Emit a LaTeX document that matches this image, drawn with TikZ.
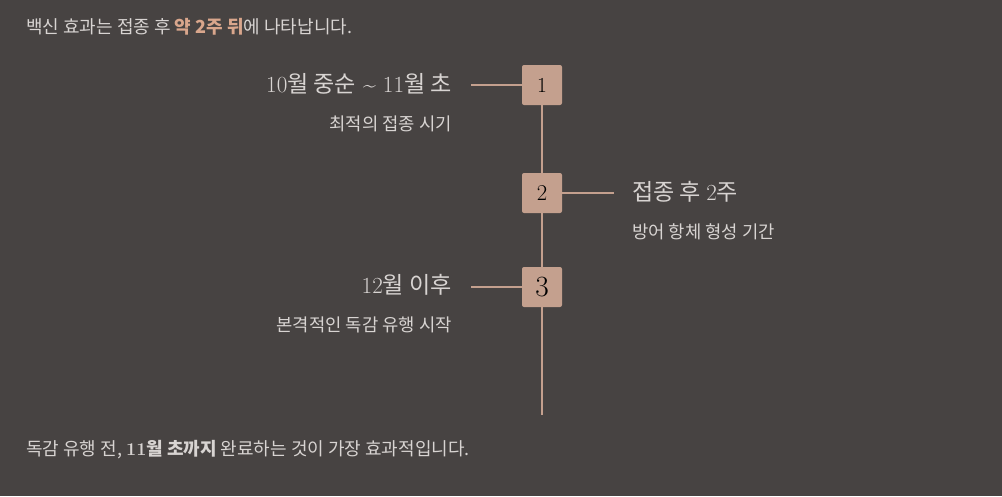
\documentclass[tikz,border=0pt]{standalone}
\usepackage{fontspec}
\newfontfamily\kr{Noto Sans CJK KR}
\usetikzlibrary{calc}
\definecolor{bgdark}{HTML}{474342}
\definecolor{tan}{HTML}{C4A08E}
\definecolor{txt}{HTML}{D8D4D2}
\definecolor{accent}{HTML}{D9A68C}

\begin{document}
\begin{tikzpicture}[x=0.75pt,y=-0.75pt,
  numbox/.style={fill=tan, rounded corners=1.5pt, minimum size=30pt, inner sep=0pt, text=black},
  titletext/.style={text=txt, inner sep=0pt, font=\fontsize{17.3}{20}\selectfont},
  subtext/.style={text=txt, inner sep=0pt, font=\kr\fontsize{13.3}{16}\selectfont},
  note/.style={text=txt, inner sep=0pt, anchor=base west, font=\kr\fontsize{13.5}{16}\selectfont},
  link/.style={draw=tan, line width=1.4pt}]
\fill[bgdark] (0,0) rectangle (1002,496);
\useasboundingbox (0,0) rectangle (1002,496);
\coordinate (c1) at (471,85); \coordinate (c2) at (614,193); \coordinate (c3) at (471,287); \coordinate (end) at (542,415);
\node[note] (top) at (26,33) {백신 효과는 접종 후 {\bfseries\color{accent}약 2주 뒤}에 나타납니다.};
\node[note] (bottom) at (26,455) {독감 유행 전, {\rmfamily\bfseries 11}{\bfseries 월 초까지} 완료하는 것이 가장 효과적입니다.};
\node[numbox, font=\fontsize{16}{16}\selectfont] (n1) at (542,85) {1};
\node[numbox, font=\fontsize{17}{17}\selectfont] (n2) at (542,193) {2};
\node[numbox, font=\fontsize{22}{22}\selectfont] (n3) at (542,287) {3};
\draw[link] (n1) -- (n2) (n2) -- (n3) (n3) -- (end);
\draw[link] (n1) -- (c1); \draw[link] (n2) -- (c2); \draw[link] (n3) -- (c3);
\node[titletext, anchor=base east] (t1) at (452,92) {10{\kr 월 중순} \textasciitilde{} 11{\kr 월 초}};
\node[subtext, anchor=base east] (s1) at (452,130) {최적의 접종 시기};
\node[titletext, anchor=base west] (t2) at (632,200) {{\kr 접종 후 }2{\kr 주}};
\node[subtext, anchor=base west] (s2) at (632,238) {방어 항체 형성 기간};
\node[titletext, anchor=base east] (t3) at (452,293) {12{\kr 월 이후}};
\node[subtext, anchor=base east] (s3) at (452,331) {본격적인 독감 유행 시작};
\end{tikzpicture}
\end{document}
